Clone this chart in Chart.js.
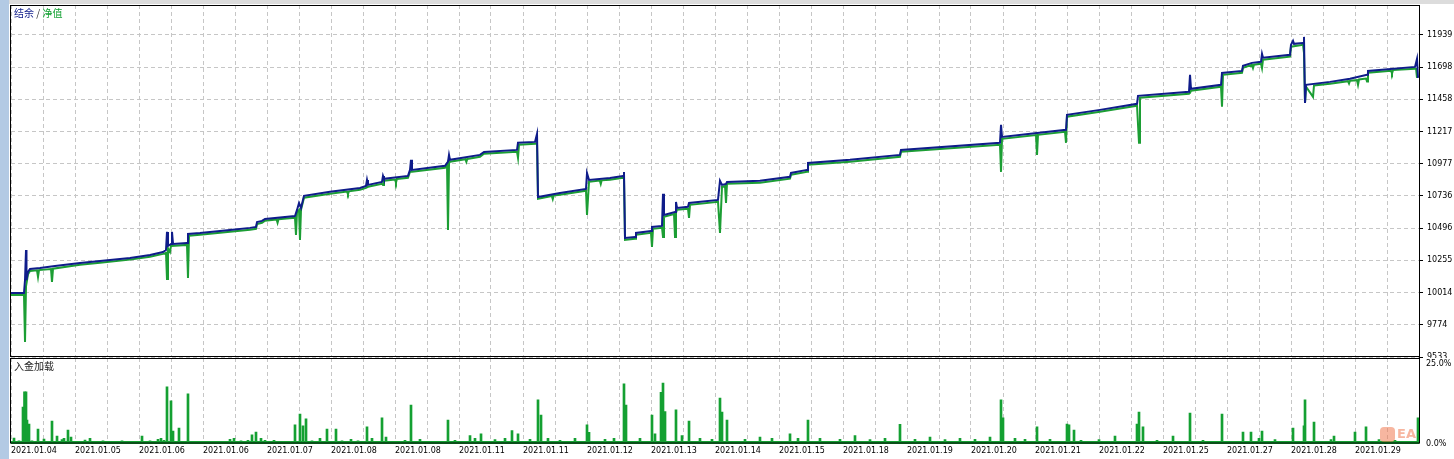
<!DOCTYPE html>
<html>
<head>
<meta charset="utf-8">
<script src="https://cdn.jsdelivr.net/npm/chart.js@4.4.1/dist/chart.umd.min.js"></script>
<style>
  html, body { margin:0; padding:0; background:#fff; overflow:hidden; }
  body { width:1454px; height:459px; position:relative; }
  #top { position:absolute; left:0; top:0; }
  #bottom { position:absolute; left:0; top:353px; }
  #leftStrip { position:absolute; left:0; top:0; width:9px; height:459px; background:#b3cae4; z-index:5; }
  #topStrip { position:absolute; left:0; top:0; width:1454px; height:4px; background:#dcdcdc; z-index:5; }
  #mark { position:absolute; left:1380px; top:426px; z-index:6; opacity:0.55; font:bold 13px "DejaVu Sans"; color:#f07a52; }
  #mark span { display:inline-block; width:15px; height:15px; border-radius:4px; background:#f07a52; vertical-align:middle; margin-right:2px; }
</style>
</head>
<body>
<div id="topStrip"></div>
<div id="leftStrip"></div>
<canvas id="top" width="1454" height="364"></canvas>
<canvas id="bottom" width="1454" height="106"></canvas>
<div id="mark"><span></span>EA</div>
<script>
// x unit = one grid column, 44 columns across the chart
const dateLabels = ['2021.01.04','2021.01.05','2021.01.06','2021.01.06','2021.01.07','2021.01.08',
  '2021.01.08','2021.01.11','2021.01.11','2021.01.12','2021.01.13','2021.01.14','2021.01.15',
  '2021.01.18','2021.01.19','2021.01.20','2021.01.21','2021.01.22','2021.01.25','2021.01.27',
  '2021.01.28','2021.01.29'];
const balanceTicks = [9533, 9774, 10014, 10255, 10496, 10736, 10977, 11217, 11458, 11698, 11939];
const loadTicks = [0, 25];

// balance (结余) [time, value]
const balance = [[0,10011],[0.406,10011],[0.438,10108],[0.469,10332],[0.484,10108],[0.531,10168],
  [0.594,10190],[0.906,10198],[1.375,10213],[2.156,10235],[2.781,10250],[3.719,10273],[4.344,10295],
  [4.75,10317],[4.844,10332],[4.875,10467],[4.906,10362],[5.0,10377],[5.031,10467],[5.063,10377],
  [5.5,10385],[5.531,10452],[5.906,10459],[6.844,10482],[7.469,10497],[7.656,10504],[7.688,10541],
  [7.844,10549],[7.938,10564],[8.875,10586],[8.938,10631],[9.0,10683],[9.063,10646],[9.156,10736],
  [9.969,10766],[10.906,10795],[11.094,10810],[11.125,10855],[11.156,10818],[11.594,10840],
  [11.625,10885],[11.656,10863],[12.406,10885],[12.469,10930],[12.5,11005],[12.531,10930],
  [13.563,10960],[13.656,10990],[13.688,11042],[13.719,11005],[14.656,11042],[14.781,11064],
  [15.813,11079],[15.844,11132],[16.375,11139],[16.438,11199],[16.469,10728],[17.156,10758],
  [17.969,10788],[18.0,10907],[18.063,10855],[18.719,10870],[19.125,10885],[19.156,10915],
  [19.188,10422],[19.5,10429],[19.531,10459],[20.0,10474],[20.031,10504],[20.344,10512],
  [20.375,10751],[20.406,10594],[20.75,10616],[20.781,10691],[20.813,10646],[21.156,10654],
  [21.188,10683],[22.094,10706],[22.156,10848],[22.219,10818],[22.344,10825],[22.375,10840],
  [23.406,10848],[24.344,10878],[24.375,10907],[24.875,10930],[24.906,10982],[26.219,11005],
  [27.781,11042],[27.813,11079],[30.906,11132],[30.938,11266],[30.969,11176],[32.063,11206],
  [32.969,11229],[33.0,11341],[34.031,11378],[35.188,11423],[35.219,11483],[36.813,11513],
  [36.844,11640],[36.875,11535],[37.813,11565],[37.844,11654],[38.469,11669],[38.5,11707],
  [38.781,11729],[39.063,11737],[39.094,11796],[39.125,11767],[39.969,11789],[40.0,11864],
  [40.063,11894],[40.094,11871],[40.375,11878],[40.406,11923],[40.438,11430],[40.469,11565],
  [41.219,11587],[41.844,11610],[42.375,11640],[42.406,11669],[43.875,11699],[43.938,11760],
  [43.969,11617]];

// equity (净值) [time, value]
const equity = [[0,9995],[0.406,9995],[0.438,9645],[0.469,10060],[0.531,10150],[0.594,10175],
  [0.813,10180],[0.844,10131],[0.875,10182],[1.25,10190],[1.281,10093],[1.313,10192],[2.156,10222],
  [2.781,10236],[3.719,10260],[4.344,10281],[4.75,10303],[4.844,10310],[4.875,10116],[4.906,10345],
  [4.969,10317],[5.0,10362],[5.5,10370],[5.531,10123],[5.563,10438],[5.906,10445],[6.844,10468],
  [7.469,10483],[7.656,10490],[7.688,10526],[7.844,10535],[7.938,10550],[8.3,10560],[8.33,10535],
  [8.36,10562],[8.875,10572],[8.906,10444],[8.938,10616],[9.0,10630],[9.031,10407],[9.063,10632],
  [9.156,10722],[9.969,10752],[10.5,10768],[10.53,10750],[10.56,10770],[10.906,10781],[11.094,10796],
  [11.156,10804],[11.594,10826],[11.625,10818],[11.656,10849],[12.0,10858],[12.03,10835],
  [12.06,10862],[12.406,10871],[12.469,10916],[12.531,10916],[13.563,10946],[13.625,10976],
  [13.656,10482],[13.688,10980],[13.719,10991],[14.2,11010],[14.23,10990],[14.26,11012],
  [14.656,11028],[14.781,11050],[15.813,11065],[15.844,11020],[15.875,11118],[16.375,11125],
  [16.438,11130],[16.469,10714],[16.9,10735],[16.93,10712],[16.96,10738],[17.156,10744],
  [17.969,10774],[18.0,10594],[18.063,10841],[18.4,10850],[18.43,10825],[18.46,10852],
  [18.719,10856],[19.125,10871],[19.156,10875],[19.188,10408],[19.5,10415],[19.531,10445],
  [20.0,10460],[20.031,10355],[20.063,10490],[20.344,10498],[20.375,10429],[20.406,10580],
  [20.719,10600],[20.75,10429],[20.781,10610],[20.813,10632],[21.156,10640],[21.188,10571],
  [21.219,10669],[22.094,10692],[22.156,10459],[22.219,10804],[22.313,10810],[22.344,10683],
  [22.375,10826],[23.406,10834],[24.344,10864],[24.375,10893],[24.875,10916],[24.906,10968],
  [26.219,10991],[27.781,11028],[27.813,11065],[30.906,11118],[30.938,10915],[30.969,11162],
  [32.031,11190],[32.063,11042],[32.094,11192],[32.938,11214],[32.969,11132],[33.0,11327],
  [34.031,11364],[35.188,11409],[35.25,11132],[35.281,11469],[36.813,11499],[36.844,11505],
  [36.875,11521],[37.813,11551],[37.844,11401],[37.875,11640],[38.469,11655],[38.5,11693],
  [38.781,11715],[38.813,11690],[38.844,11715],[39.063,11723],[39.094,11690],[39.125,11753],
  [39.969,11775],[40.0,11850],[40.375,11864],[40.406,11804],[40.438,11430],[40.469,11551],
  [40.688,11475],[40.719,11560],[41.219,11573],[41.781,11592],[41.813,11575],[41.844,11596],
  [42.063,11600],[42.094,11565],[42.125,11605],[42.344,11612],[42.375,11590],[42.406,11655],
  [43.125,11670],[43.156,11650],[43.188,11675],[43.875,11685],[43.906,11690],[43.938,11617]];

// deposit load (入金加载) [time, percent]
const load = [[0.094,1.7],[0.25,0.8],[0.375,11.4],[0.422,16.1],[0.469,16.1],[0.5,7.3],[0.563,6.1],
  [0.656,0.8],[0.844,4.5],[1.031,1.4],[1.281,7.0],[1.438,2.3],[1.594,1.2],[1.656,1.6],[1.781,4.2],
  [1.875,2.0],[2.031,0.6],[2.313,1.1],[2.469,1.6],[2.875,0.8],[3.094,0.5],[3.469,0.8],[4.094,2.3],
  [4.344,0.8],[4.594,1.3],[4.688,1.6],[4.781,1.0],[4.875,17.7],[5.0,13.3],[5.063,3.9],[5.25,4.8],
  [5.531,15.5],[5.75,0.6],[6.063,0.5],[6.844,1.3],[6.969,1.6],[7.188,0.8],[7.406,1.0],[7.531,2.7],
  [7.656,3.6],[7.813,1.6],[7.938,1.0],[8.219,1.0],[8.5,0.6],[8.875,5.8],[9.031,9.2],[9.125,5.5],
  [9.219,7.7],[9.406,0.8],[9.656,1.6],[9.875,4.5],[10.156,4.5],[10.344,0.8],[10.625,1.3],
  [10.844,0.8],[11.125,5.2],[11.281,1.6],[11.594,8.0],[11.719,2.0],[12.313,1.0],[12.5,12.0],
  [12.781,1.3],[13.656,7.3],[13.875,1.0],[14.344,2.5],[14.5,1.6],[14.688,3.0],[15.125,1.2],
  [15.438,1.6],[15.656,4.0],[15.844,3.0],[16.219,1.3],[16.469,13.6],[16.563,8.9],[16.781,1.6],
  [17.156,1.0],[17.625,1.6],[18.0,5.8],[18.063,3.5],[18.563,1.3],[18.844,1.6],[19.156,18.6],
  [19.219,12.0],[19.656,1.6],[20.031,8.9],[20.125,3.0],[20.313,16.0],[20.375,18.9],[20.438,10.0],
  [20.781,10.5],[20.969,2.5],[21.188,7.0],[21.531,1.6],[21.906,1.3],[22.156,14.2],[22.219,9.8],
  [22.375,7.3],[22.938,1.3],[23.406,2.0],[23.781,1.6],[24.344,3.0],[24.594,1.6],[24.906,7.3],
  [25.281,1.6],[25.906,1.3],[26.375,2.5],[26.844,1.2],[27.313,1.6],[27.781,6.0],[28.25,1.3],
  [28.719,2.0],[29.188,1.2],[29.656,1.6],[30.125,1.3],[30.594,2.0],[30.938,13.6],[31.0,8.0],
  [31.375,1.6],[31.688,1.3],[32.063,5.2],[32.469,1.3],[33.0,6.1],[33.063,5.8],[33.219,4.2],
  [33.438,1.0],[34.0,1.2],[34.5,2.3],[35.188,6.1],[35.25,9.8],[35.375,5.2],[35.813,1.0],
  [36.313,2.3],[36.844,9.5],[37.25,1.0],[37.844,9.2],[38.5,3.6],[38.75,3.6],[39.0,1.6],
  [39.094,3.9],[39.5,1.2],[40.063,4.8],[40.406,5.5],[40.438,13.6],[40.719,6.7],[41.25,1.2],
  [41.344,2.3],[42.0,3.6],[42.344,5.2],[42.75,1.2],[43.25,1.0],[43.969,8.0]];

const gridCol = '#c6c6c6';

const frame = {
  id: 'frame',
  beforeDraw(chart, args, opts) {
    const ctx = chart.ctx;
    if (opts.whiteFrom !== undefined) {
      ctx.save();
      ctx.fillStyle = '#fff';
      ctx.fillRect(0, opts.whiteFrom, chart.width, chart.height - opts.whiteFrom);
      ctx.restore();
    }
  },
  afterDraw(chart, args, opts) {
    const ctx = chart.ctx, a = chart.chartArea;
    ctx.save();
    if (opts.baseline) {
      ctx.fillStyle = '#14a032';
      ctx.fillRect(a.left, a.bottom - 2.5, a.right - a.left, 3);
    }
    ctx.strokeStyle = '#000';
    ctx.lineWidth = 1;
    ctx.strokeRect(a.left - 0.5, a.top + 0.5, a.right - a.left + 1, a.bottom - a.top - 1);
    ctx.textBaseline = 'alphabetic';
    ctx.textAlign = 'left';
    if (opts.title) {
      let x = a.left + 3;
      ctx.font = '10px "Noto Sans CJK SC"';
      for (const part of opts.title) {
        ctx.fillStyle = part[1];
        ctx.fillText(part[0], x, a.top + 12);
        x += ctx.measureText(part[0]).width;
      }
    }
    ctx.restore();
  }
};

// fixed axis width, and no extra room reserved for the end labels
const fixW = s => { s.width = 35; s.paddingTop = 0; s.paddingBottom = 0; };
const tickFont = { family: 'DejaVu Sans', size: 8 };

new Chart(document.getElementById('top'), {
  type: 'line',
  data: {
    datasets: [
      { label: '结余', data: balance.map(p => ({ x: p[0], y: p[1] })), borderColor: '#0f1c8a',
        borderWidth: 2, pointRadius: 0, tension: 0, order: 0 },
      { label: '净值', data: equity.map(p => ({ x: p[0], y: p[1] })), borderColor: '#1c9e34',
        borderWidth: 2, pointRadius: 0, tension: 0, order: 1 }
    ]
  },
  options: {
    responsive: false, animation: false, devicePixelRatio: 1,
    layout: { padding: { left: 11, top: 5, bottom: 7, right: 0 } },
    plugins: {
      legend: { display: false }, tooltip: { enabled: false },
      frame: { title: [['结余', '#0f1c8a'], [' / ', '#333'], ['净值', '#10a030']] }
    },
    scales: {
      x: { type: 'linear', min: 0, max: 44,
        ticks: { display: false, stepSize: 1 },
        grid: { color: gridCol, drawTicks: false },
        border: { display: false, dash: [4, 3] },
        afterFit: s => { s.height = 0; s.paddingLeft = 0; s.paddingRight = 0; } },
      y: { position: 'right', min: 9533, max: 12161,
        afterBuildTicks: s => { s.ticks = balanceTicks.map(v => ({ value: v })); },
        ticks: { font: tickFont, color: '#000', padding: 4, callback: v => String(v) },
        grid: { color: gridCol, tickColor: '#000', tickLength: 4 },
        border: { display: false, dash: [4, 3] },
        afterFit: fixW }
    }
  },
  plugins: [frame]
});

new Chart(document.getElementById('bottom'), {
  type: 'bar',
  data: {
    datasets: [
      { label: '入金加载', data: load.map(p => ({ x: p[0], y: p[1] })), backgroundColor: '#14a032',
        barThickness: 2, borderWidth: 0 }
    ]
  },
  options: {
    responsive: false, animation: false, devicePixelRatio: 1,
    layout: { padding: { left: 11, top: 5, bottom: 0, right: 0 } },
    plugins: {
      legend: { display: false }, tooltip: { enabled: false },
      frame: { whiteFrom: 5, baseline: true, title: [['入金加载', '#222']] }
    },
    scales: {
      x: { type: 'linear', min: 0, max: 44, offset: false,
        ticks: { stepSize: 1, autoSkip: false, maxRotation: 0, align: 'start', padding: 3,
          font: tickFont, color: '#000',
          callback: v => (v % 2 === 0 && dateLabels[v / 2]) ? dateLabels[v / 2] : '' },
        grid: { color: gridCol, drawTicks: false, offset: false },
        border: { display: false, dash: [4, 3] },
        afterFit: s => { s.height = 15.5; s.paddingLeft = 0; s.paddingRight = 0; } },
      y: { position: 'right', min: 0, max: 26.7,
        afterBuildTicks: s => { s.ticks = loadTicks.map(v => ({ value: v })); },
        ticks: { font: tickFont, color: '#000', padding: 7, callback: v => v.toFixed(1) + '%' },
        grid: { display: false, drawTicks: false },
        border: { display: false },
        afterFit: fixW }
    }
  },
  plugins: [frame]
});
</script>
</body>
</html>
